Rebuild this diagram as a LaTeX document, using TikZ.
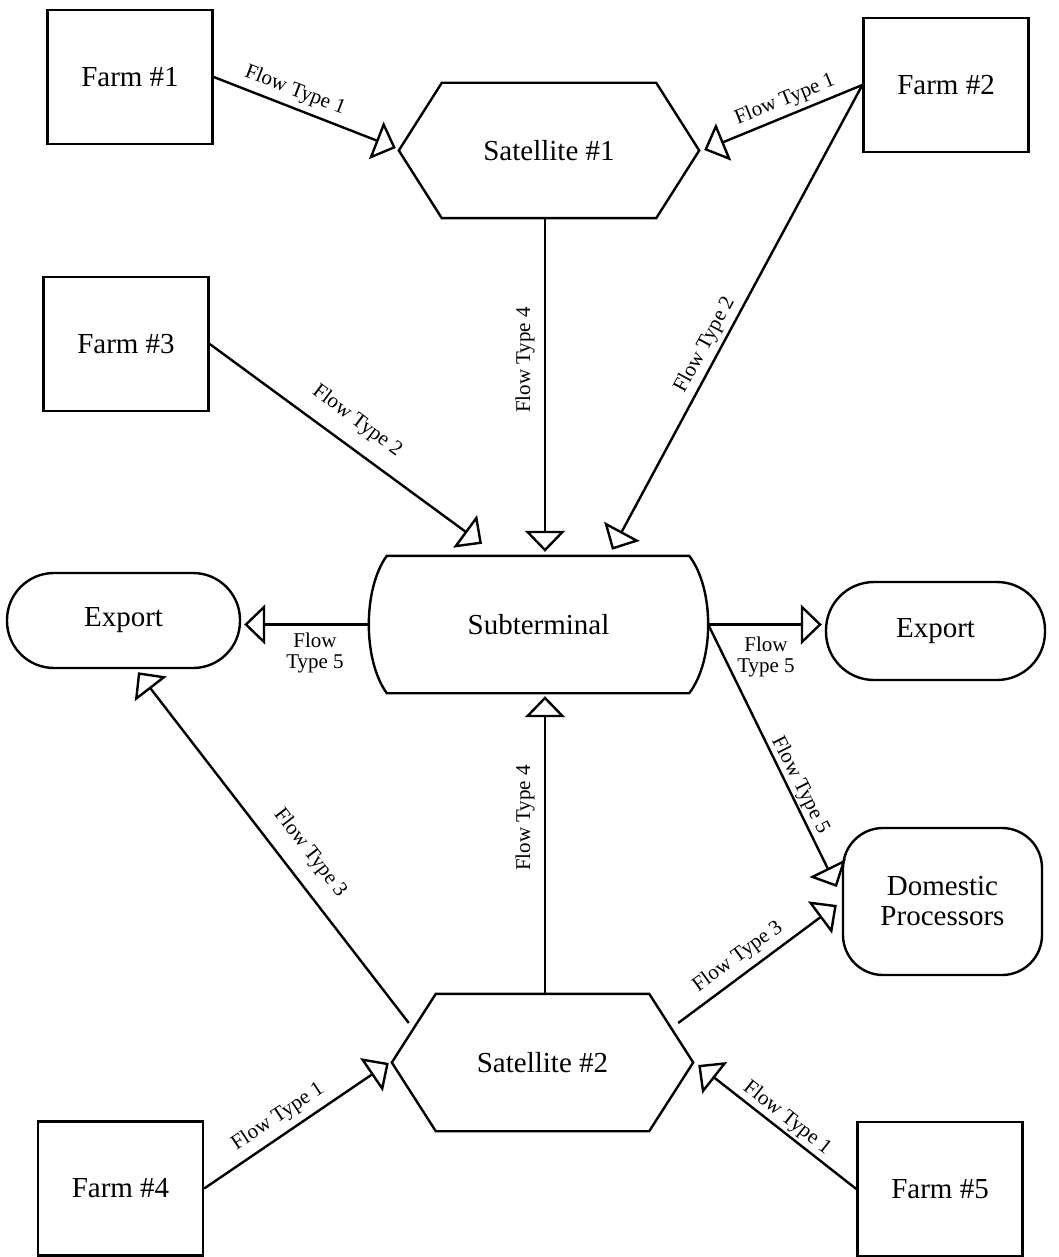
\documentclass[tikz,border=0pt]{standalone}
\usepackage{fontspec}
\setmainfont{Liberation Serif}
\usetikzlibrary{arrows.meta,calc}
\begin{document}
\begin{tikzpicture}[x=1pt,y=-1pt,
  line width=2.4pt,
  txt/.style={inner sep=0pt, font=\fontsize{29}{30}\selectfont},
  box/.style={txt, draw, line width=2.4pt},
  farm/.style={box, minimum width=165pt, minimum height=134pt},
  flow/.style={line width=2.4pt, -{Triangle[open,length=21pt,width=40pt]}},
  lab/.style={inner sep=0pt, font=\fontsize{21}{21}\selectfont, align=center}]
\useasboundingbox[fill=white] (0,0) rectangle (1058,1257);

% farms
\node[farm] (f1) at (130,77) {Farm \#1};
\node[farm] (f2) at (946,85) {Farm \#2};
\node[farm] (f3) at (126,344) {Farm \#3};
\node[farm] (f4) at (120.5,1188.5) {Farm \#4};
\node[farm] (f5) at (940,1189) {Farm \#5};

% satellites and subterminal
\node[txt, minimum width=298pt, minimum height=133pt] (s1) at (549,150.5) {Satellite \#1};
\node[txt, minimum width=299pt, minimum height=135pt] (s2) at (542.5,1062.5) {Satellite \#2};
\node[txt, minimum width=337pt, minimum height=135pt] (sub) at (538.5,624.5) {Subterminal};

\draw[line join=miter] (s1.west) -- ($(s1.north west)+(43,0)$) -- ($(s1.north east)+(-43,0)$)
  -- (s1.east) -- ($(s1.south east)+(-43,0)$) -- ($(s1.south west)+(43,0)$) -- cycle;
\draw[line join=miter] (s2.west) -- ($(s2.north west)+(44,0)$) -- ($(s2.north east)+(-44,0)$)
  -- (s2.east) -- ($(s2.south east)+(-44,0)$) -- ($(s2.south west)+(44,0)$) -- cycle;
\draw[line join=miter] ($(sub.north west)+(18,0)$) -- ($(sub.north east)+(-19,0)$)
  .. controls ($(sub.north east)+(6.3,33)$) and ($(sub.south east)+(6.3,-33)$) .. ($(sub.south east)+(-19,0)$)
  -- ($(sub.south west)+(18,0)$)
  .. controls ($(sub.south west)+(-6,-33)$) and ($(sub.north west)+(-6,33)$) .. cycle;

% sinks
\node[box, rounded corners=47pt, minimum width=233pt, minimum height=95pt] (exl) at (123.5,620.5) {Export};
\node[box, rounded corners=48pt, minimum width=219pt, minimum height=98pt] (exr) at (935.5,631) {Export};
\node[box, rounded corners=40pt, minimum width=199pt, minimum height=147pt, align=center] (dom) at (942.5,901.5) {Domestic\\Processors};

% connectors
\draw[flow] (f1.east) -- ($(s1.west)+(-3,-2.5)$);
\draw[flow] (f2.west) -- ($(s1.east)+(5,-0.5)$);
\draw[flow] (f2.west) -- ($(sub.north)+(73.5,-6)$);
\draw[flow] (f3.east) -- ($(sub.north)+(-56.5,-12)$);
\draw[flow] ($(s1.south)+(-4,0)$) -- ($(sub.north)+(6.5,-4)$);
\draw[flow] (sub.west) -- ($(exl.east)+(3,4)$);
\draw[flow] (sub.east) -- ($(exr.west)+(-3,-6.5)$);
\draw[flow] (sub.east) -- ($(dom.west)+(-5,-14.5)$);
\draw[flow] ($(s2.north)+(2.5,0)$) -- ($(sub.south)+(6.5,3)$);
\draw[flow] ($(s2.west)+(17,-39.5)$) -- ($(exl.south)+(14.5,3)$);
\draw[flow] ($(s2.east)+(-15,-39.5)$) -- ($(dom.west)+(-5,3.5)$);
\draw[flow] (f4.east) -- ($(s2.west)+(-3,0.5)$);
\draw[flow] (f5.west) -- ($(s2.east)+(5,2.5)$);

% labels
\node[lab, rotate=-21] (l1) at (295,91) {Flow Type 1};
\node[lab, rotate=22] (l2) at (785,100) {Flow Type 1};
\node[lab, rotate=61.5] (l3) at (705,345) {Flow Type 2};
\node[lab, rotate=90] (l4) at (525,360) {Flow Type 4};
\node[lab, rotate=-36.7] (l5) at (357,421) {Flow Type 2};
\node[lab] (l6) at (315,653) {Flow\\Type 5};
\node[lab] (l7) at (766,657) {Flow\\Type 5};
\node[lab, rotate=-63.2] (l8) at (800,785) {Flow Type 5};
\node[lab, rotate=90] (l9) at (525,818) {Flow Type 4};
\node[lab, rotate=-52.3] (l10) at (310,853) {Flow Type 3};
\node[lab, rotate=36.2] (l11) at (738,957) {Flow Type 3};
\node[lab, rotate=33.6] (l12) at (278,1117) {Flow Type 1};
\node[lab, rotate=-38.3] (l13) at (787,1118) {Flow Type 1};
\end{tikzpicture}
\end{document}
